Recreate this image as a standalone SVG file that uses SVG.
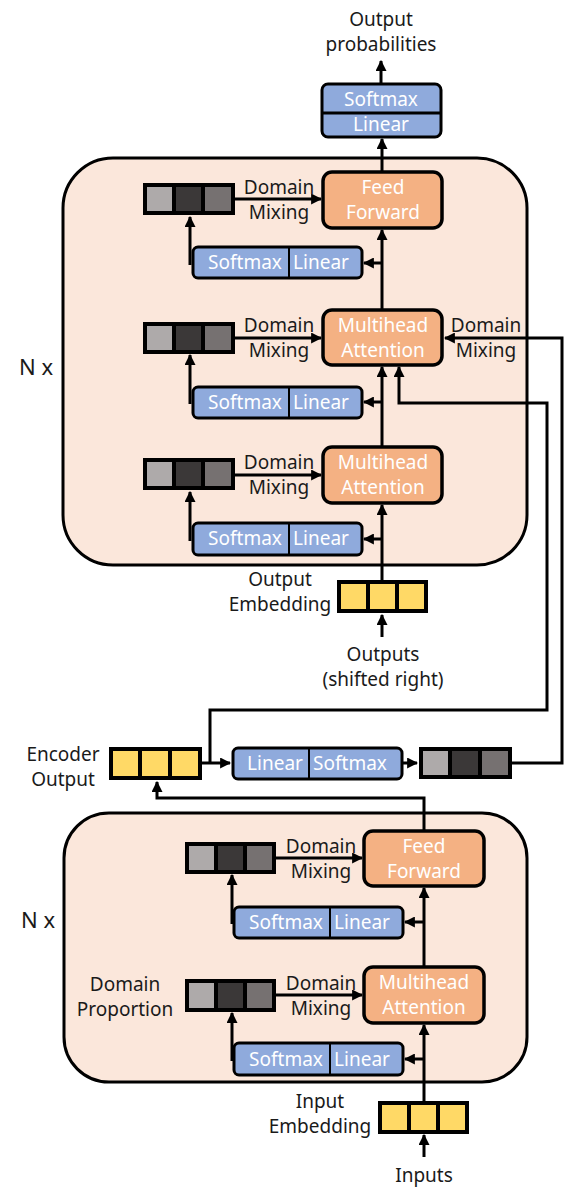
<svg xmlns="http://www.w3.org/2000/svg" width="576" height="1200" viewBox="0 0 576 1200">
<defs>
<marker id="ah" viewBox="0 0 10 10" refX="9" refY="5" markerWidth="11" markerHeight="11" markerUnits="userSpaceOnUse" orient="auto"><path d="M0,0 L10,5 L0,10 z" fill="#000"/></marker>
<style>
.outer{fill:#fbe7db;stroke:#000;stroke-width:3}
.op{fill:#f4b183;stroke:#000;stroke-width:3.5}
.bl{fill:#8faadc;stroke:#000;stroke-width:3}
.dv{stroke:#000;stroke-width:2}
.bar{fill:#000}
.g1{fill:#aeaaaa}.g2{fill:#3b3838}.g3{fill:#767171}.y{fill:#ffd966}
text{font-family:"Noto Sans","Open Sans","DejaVu Sans",sans-serif;font-size:19px;text-anchor:middle}
.w{fill:#fff}
.k{fill:#1a1a1a}
.a{fill:none;stroke:#000;stroke-width:3;marker-end:url(#ah)}
</style>
</defs>
<rect width="576" height="1200" fill="#fff"/>

<g id="decoder-block"><rect class="outer" x="63" y="158" width="464" height="407" rx="50"/></g>
<g id="encoder-block"><rect class="outer" x="64" y="813" width="463" height="269" rx="45"/></g>

<g id="connectors">
<line class="a" x1="381" y1="84" x2="381" y2="61"/>
<line class="a" x1="382" y1="172" x2="382" y2="139"/>
<line class="a" x1="382" y1="310" x2="382" y2="230"/>
<line class="a" x1="382" y1="447" x2="382" y2="367"/>
<line class="a" x1="382" y1="580" x2="382" y2="505"/>
<line class="a" x1="382" y1="637" x2="382" y2="615"/>
<line class="a" x1="382" y1="263" x2="364" y2="263"/>
<polyline class="a" points="190,265 190,217"/>
<line class="a" x1="235" y1="199" x2="321" y2="199"/>
<line class="a" x1="382" y1="402" x2="364" y2="402"/>
<polyline class="a" points="190,404 190,355"/>
<line class="a" x1="235" y1="338" x2="321" y2="338"/>
<line class="a" x1="382" y1="539" x2="364" y2="539"/>
<polyline class="a" points="190,541 190,492"/>
<line class="a" x1="235" y1="475" x2="321" y2="475"/>
<polyline class="a" points="512,763 562,763 562,338 445,338"/>
<polyline class="a" points="210,763 210,710 547,710 547,403 399,403 399,367"/>
<line class="a" x1="202" y1="763" x2="230" y2="763"/>
<line class="a" x1="402" y1="763" x2="417" y2="763"/>
<polyline class="a" points="424,831 424,798 157,798 157,782"/>
<line class="a" x1="424" y1="967" x2="424" y2="888"/>
<line class="a" x1="424" y1="1102" x2="424" y2="1025"/>
<line class="a" x1="424" y1="1157" x2="424" y2="1135"/>
<line class="a" x1="424" y1="922" x2="405" y2="922"/>
<polyline class="a" points="232,924 232,875"/>
<line class="a" x1="276" y1="858" x2="362" y2="858"/>
<line class="a" x1="424" y1="1059" x2="405" y2="1059"/>
<polyline class="a" points="232,1061 232,1013"/>
<line class="a" x1="276" y1="995" x2="362" y2="995"/>
</g>

<g id="out-softmax-linear">
<rect class="bl" x="322" y="84" width="119" height="53" rx="6"/>
<line class="dv" x1="322" y1="113" x2="441" y2="113" style="stroke-width:3"/>
<text class="w" x="381" y="106">Softmax</text>
<text class="w" x="381" y="131">Linear</text>
</g>
<g id="label-output-prob"><text class="k" x="381" y="26">Output</text><text class="k" x="381" y="51">probabilities</text></g>
<g id="label-nx-dec"><text class="k" x="36" y="375" style="font-size:22px">N x</text></g>
<g id="label-nx-enc"><text class="k" x="38" y="928" style="font-size:22px">N x</text></g>

<g id="dec-ff"><rect class="op" x="323" y="172" width="119" height="56" rx="9"/><text class="w" x="383" y="194">Feed</text><text class="w" x="383" y="219">Forward</text></g>
<g id="dec-bar1"><rect class="bar" x="143" y="183" width="92" height="32"/><rect class="g1" x="147" y="187" width="25" height="24"/><rect class="g2" x="176" y="187" width="25" height="24"/><rect class="g3" x="205" y="187" width="26" height="24"/></g>
<g id="dec-sl1"><rect class="bl" x="193" y="247" width="169" height="31" rx="5"/><line class="dv" x1="289" y1="247" x2="289" y2="278"/><text class="w" x="245" y="269">Softmax</text><text class="w" x="321" y="269">Linear</text></g>
<g id="dec-dm1"><text class="k" x="279" y="194">Domain</text><text class="k" x="279" y="219">Mixing</text></g>

<g id="dec-mha2"><rect class="op" x="323" y="310" width="119" height="55" rx="9"/><text class="w" x="383" y="332">Multihead</text><text class="w" x="383" y="357">Attention</text></g>
<g id="dec-bar2"><rect class="bar" x="143" y="322" width="92" height="32"/><rect class="g1" x="147" y="326" width="25" height="24"/><rect class="g2" x="176" y="326" width="25" height="24"/><rect class="g3" x="205" y="326" width="26" height="24"/></g>
<g id="dec-sl2"><rect class="bl" x="193" y="387" width="169" height="31" rx="5"/><line class="dv" x1="289" y1="387" x2="289" y2="418"/><text class="w" x="245" y="409">Softmax</text><text class="w" x="321" y="409">Linear</text></g>
<g id="dec-dm2"><text class="k" x="279" y="332">Domain</text><text class="k" x="279" y="357">Mixing</text></g>
<g id="dec-dm2r"><text class="k" x="486" y="332">Domain</text><text class="k" x="486" y="357">Mixing</text></g>

<g id="dec-mha3"><rect class="op" x="323" y="447" width="119" height="56" rx="9"/><text class="w" x="383" y="469">Multihead</text><text class="w" x="383" y="494">Attention</text></g>
<g id="dec-bar3"><rect class="bar" x="143" y="458" width="92" height="32"/><rect class="g1" x="147" y="462" width="25" height="24"/><rect class="g2" x="176" y="462" width="25" height="24"/><rect class="g3" x="205" y="462" width="26" height="24"/></g>
<g id="dec-sl3"><rect class="bl" x="193" y="523" width="169" height="32" rx="5"/><line class="dv" x1="289" y1="523" x2="289" y2="555"/><text class="w" x="245" y="545">Softmax</text><text class="w" x="321" y="545">Linear</text></g>
<g id="dec-dm3"><text class="k" x="279" y="469">Domain</text><text class="k" x="279" y="494">Mixing</text></g>

<g id="out-emb"><rect class="bar" x="337" y="580" width="91" height="33"/><rect class="y" x="341" y="584" width="25" height="25"/><rect class="y" x="370" y="584" width="25" height="25"/><rect class="y" x="399" y="584" width="25" height="25"/></g>
<g id="label-out-emb"><text class="k" x="280" y="586">Output</text><text class="k" x="280" y="611">Embedding</text></g>
<g id="label-outputs"><text class="k" x="383" y="661">Outputs</text><text class="k" x="383" y="686">(shifted right)</text></g>

<g id="enc-out"><rect class="bar" x="109" y="747" width="93" height="33"/><rect class="y" x="113" y="751" width="25" height="25"/><rect class="y" x="142" y="751" width="26" height="25"/><rect class="y" x="172" y="751" width="26" height="25"/></g>
<g id="label-enc-out"><text class="k" x="63" y="761">Encoder</text><text class="k" x="63" y="786">Output</text></g>
<g id="enc-ls"><rect class="bl" x="233" y="748" width="169" height="31" rx="5"/><line class="dv" x1="309" y1="748" x2="309" y2="779"/><text class="w" x="275" y="770">Linear</text><text class="w" x="350" y="770">Softmax</text></g>
<g id="enc-bar-out"><rect class="bar" x="419" y="747" width="93" height="32"/><rect class="g1" x="423" y="751" width="25" height="24"/><rect class="g2" x="452" y="751" width="26" height="24"/><rect class="g3" x="482" y="751" width="26" height="24"/></g>

<g id="enc-ff"><rect class="op" x="364" y="831" width="120" height="55" rx="9"/><text class="w" x="424" y="853">Feed</text><text class="w" x="424" y="878">Forward</text></g>
<g id="enc-bar1"><rect class="bar" x="185" y="842" width="91" height="32"/><rect class="g1" x="189" y="846" width="25" height="24"/><rect class="g2" x="218" y="846" width="25" height="24"/><rect class="g3" x="247" y="846" width="25" height="24"/></g>
<g id="enc-sl1"><rect class="bl" x="234" y="907" width="169" height="31" rx="5"/><line class="dv" x1="330" y1="907" x2="330" y2="938"/><text class="w" x="286" y="929">Softmax</text><text class="w" x="362" y="929">Linear</text></g>
<g id="enc-dm1"><text class="k" x="321" y="853">Domain</text><text class="k" x="321" y="878">Mixing</text></g>

<g id="enc-mha"><rect class="op" x="364" y="967" width="120" height="56" rx="9"/><text class="w" x="424" y="989">Multihead</text><text class="w" x="424" y="1014">Attention</text></g>
<g id="enc-bar2"><rect class="bar" x="185" y="979" width="91" height="33"/><rect class="g1" x="189" y="983" width="25" height="25"/><rect class="g2" x="218" y="983" width="25" height="25"/><rect class="g3" x="247" y="983" width="25" height="25"/></g>
<g id="enc-sl2"><rect class="bl" x="234" y="1043" width="169" height="32" rx="5"/><line class="dv" x1="330" y1="1043" x2="330" y2="1075"/><text class="w" x="286" y="1066">Softmax</text><text class="w" x="362" y="1066">Linear</text></g>
<g id="enc-dm2"><text class="k" x="321" y="990">Domain</text><text class="k" x="321" y="1015">Mixing</text></g>
<g id="label-dom-prop"><text class="k" x="125" y="991">Domain</text><text class="k" x="125" y="1016">Proportion</text></g>

<g id="in-emb"><rect class="bar" x="378" y="1101" width="91" height="33"/><rect class="y" x="382" y="1105" width="25" height="25"/><rect class="y" x="411" y="1105" width="25" height="25"/><rect class="y" x="440" y="1105" width="25" height="25"/></g>
<g id="label-in-emb"><text class="k" x="320" y="1108">Input</text><text class="k" x="320" y="1133">Embedding</text></g>
<g id="label-inputs"><text class="k" x="424" y="1182">Inputs</text></g>
</svg>
